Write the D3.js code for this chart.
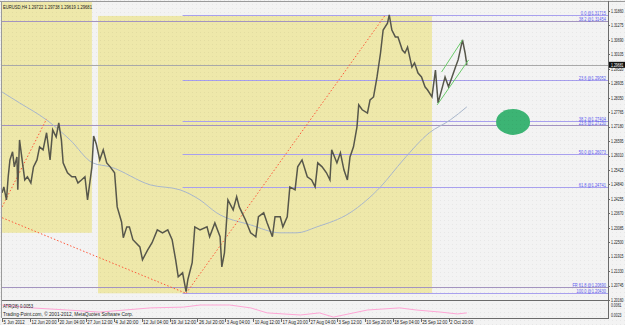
<!DOCTYPE html>
<html>
<head>
<meta charset="utf-8">
<script src="https://cdn.jsdelivr.net/npm/d3@7"></script>
<style>
  html, body { margin: 0; padding: 0; background: #f3f3f3; }
  svg { display: block; font-family: "Liberation Sans", Arial, sans-serif; }
</style>
</head>
<body>
<div id="chart"></div>
<script>
// EURUSD H4 — bar index on x (0 = 5 Jun 2012), price on y
const symbolHeader = 'EURUSD,H4 1.29722 1.29738 1.29619 1.29681';
const lastPrice = 1.29681;

const priceBars = [0, 2, 5, 7, 9, 12, 14, 17, 18, 20, 24, 26, 29, 33, 36, 40, 43, 47, 51, 55, 58, 62, 65, 68, 70, 72, 75,
  80, 84, 87, 91, 95, 98, 103, 105, 108, 112, 116, 120, 124, 129, 132, 137, 139, 143, 146, 150, 158, 161, 167, 172, 178,
  184, 190, 195, 199, 202, 207, 211, 213, 218, 221, 227, 235, 238, 244, 250, 252, 255, 259, 265, 269, 272, 279, 285, 291,
  294, 300, 304, 310, 313, 319, 322, 327, 330, 336, 339, 344, 350, 355, 359, 362, 367, 372, 376, 378, 384, 388, 392, 396,
  399, 403, 407, 409, 413, 419, 422, 426, 430, 434, 437, 442, 444, 447, 451, 454, 459, 462, 465, 470, 473, 477, 481, 485,
  488, 493, 497, 500, 505, 508, 512, 516, 520, 523, 528, 531, 533];
const priceVals = [1.2450, 1.2474, 1.2421, 1.2515, 1.2583, 1.2616, 1.2555, 1.2595, 1.2462, 1.2664, 1.2555, 1.2502, 1.2515,
  1.2490, 1.2555, 1.2583, 1.2636, 1.2624, 1.2693, 1.2583, 1.2705, 1.2676, 1.2733, 1.2664, 1.2571, 1.2555, 1.2531, 1.2515,
  1.2515, 1.2490, 1.2502, 1.2515, 1.2421, 1.2555, 1.2680, 1.2648, 1.2583, 1.2624, 1.2571, 1.2555, 1.2531, 1.2393, 1.2332,
  1.2268, 1.2312, 1.2312, 1.2260, 1.2231, 1.2179, 1.2219, 1.2248, 1.2300, 1.2288, 1.2300, 1.2260, 1.2179, 1.2110, 1.2126,
  1.2050, 1.2098, 1.2167, 1.2312, 1.2300, 1.2312, 1.2272, 1.2328, 1.2272, 1.2150, 1.2207, 1.2421, 1.2381, 1.2434, 1.2393,
  1.2341, 1.2288, 1.2272, 1.2353, 1.2369, 1.2328, 1.2272, 1.2353, 1.2353, 1.2312, 1.2353, 1.2474, 1.2462, 1.2555, 1.2583,
  1.2515, 1.2502, 1.2474, 1.2571, 1.2555, 1.2531, 1.2502, 1.2624, 1.2571, 1.2612, 1.2543, 1.2502, 1.2595, 1.2636, 1.2717,
  1.2806, 1.2786, 1.2773, 1.2826, 1.2838, 1.2919, 1.3016, 1.3109, 1.3137, 1.3170, 1.3109, 1.3081, 1.3081, 1.3028, 1.3016,
  1.3040, 1.2959, 1.2976, 1.2935, 1.2919, 1.2879, 1.2866, 1.2838, 1.2947, 1.2814, 1.2879, 1.2919, 1.2879, 1.2919, 1.2959,
  1.2988, 1.3069, 1.3016, 1.2968];

// slow moving average
const maBars = [0, 20, 51, 78, 104, 124, 170, 204, 227, 246, 285, 319, 338, 361, 399, 434, 460, 490, 514, 533];
const maVals = [1.2858, 1.2814, 1.2745, 1.2664, 1.2571, 1.2555, 1.2482, 1.2462, 1.2421, 1.2369, 1.2320, 1.2288, 1.2288,
  1.2312, 1.2369, 1.2474, 1.2583, 1.2693, 1.2745, 1.2798];

// ATR(28) sub-window
const atrBars = [0, 34, 75, 112, 170, 208, 227, 261, 285, 304, 342, 364, 380, 419, 456, 475, 503, 522, 533];
const atrVals = [0.0061, 0.0050, 0.0042, 0.0034, 0.0050, 0.0053, 0.0061, 0.0061, 0.0050, 0.0031, 0.0023, 0.0031, 0.0015,
  0.0042, 0.0050, 0.0042, 0.0034, 0.0027, 0.0031];
const atrTicks = [0.0061, 0.0023];

const priceTicks = [1.31860, 1.31275, 1.30690, 1.30105, 1.29520, 1.28935, 1.28350, 1.27765, 1.27180, 1.26595, 1.26010,
  1.25425, 1.24840, 1.24255, 1.23670, 1.23085, 1.22500, 1.21915, 1.21330, 1.20745, 1.20160];
const timeTickBars = [0, 32, 64, 96, 128, 160, 192, 224, 256, 288, 320, 352, 384, 416, 448, 480, 512];
const timeTickLabels = ['5 Jun 2012', '12 Jun 20:00', '20 Jun 04:00', '27 Jun 12:00', '4 Jul 20:00', '12 Jul 04:00',
  '19 Jul 12:00', '26 Jul 20:00', '3 Aug 04:00', '10 Aug 12:00', '17 Aug 20:00', '27 Aug 04:00', '3 Sep 12:00',
  '10 Sep 20:00', '18 Sep 04:00', '25 Sep 12:00', '2 Oct 20:00'];

// fibonacci from the Jul low to the Sep high (drawn from the low bar to the right)
const fibStartBar = 207;
const fibLabels = ['0.0', '23.6', '38.2', '50.0', '61.8', '100.0'];
const fibPrices = [1.31715, 1.29052, 1.27404, 1.26073, 1.24741, 1.20430];
// second retracement set, full width
const fib2Labels = ['38.2', '23.6', 'FR 61.8'];
const fib2Prices = [1.31454, 1.27230, 1.20690];

// shaded rectangles
const boxFrom = [0, 110];
const boxTo = [103, 493];
const boxTop = [1.3230, 1.3166];
const boxBottom = [1.2288, 1.2043];

// red dotted trend lines [bar1, price1, bar2, price2]
const trendA = [0, 1.2393, 51, 1.2749];
const trendB = [0, 1.2349, 211, 1.2043];
const trendC = [211, 1.2043, 440, 1.3172];
// green channel
const chanLow = [499, 1.2806, 535, 1.2988];
const chanHigh = [504, 1.2939, 528, 1.3069];
// green marker
const markBar = 586, markPrice = 1.2737;

const W = 625, H = 325;
const plotL = 2, plotR = 608, priceT = 2, priceB = 300, atrT = 302, atrB = 318;
const fs = 5;
const charW = 2.1;

const svg = d3.select('#chart').append('svg')
  .attr('width', W)
  .attr('height', H);

const x = d3.scaleLinear().domain([0, 695]).range([2.1, 608.1]);
const y = d3.scaleLinear().domain([1.20160, 1.31860]).range([300, 11]);
const ya = d3.scaleLinear().domain([0.0023, 0.0061]).range([315, 305]);

// small text squeezed like the downscaled terminal font
function label (sel, str, w) {
  sel.text(str)
    .style('font-size', fs + 'px')
    .attr('textLength', w || str.length * charW)
    .attr('lengthAdjust', 'spacingAndGlyphs');
  return sel;
}

const defs = svg.append('defs');
defs.append('clipPath').attr('id', 'clipP')
  .append('rect').attr('x', plotL).attr('y', priceT).attr('width', plotR - plotL).attr('height', priceB - priceT);
defs.append('clipPath').attr('id', 'clipA')
  .append('rect').attr('x', plotL).attr('y', atrT).attr('width', plotR - plotL).attr('height', atrB - atrT);
const dots = defs.append('pattern').attr('id', 'dots')
  .attr('width', 4).attr('height', 4).attr('patternUnits', 'userSpaceOnUse');
dots.append('rect').attr('width', 1).attr('height', 1).attr('fill', '#000').attr('opacity', 0.05);

svg.append('rect').attr('width', W).attr('height', H).attr('fill', '#f3f3f3');

const g = svg.append('g').attr('clip-path', 'url(#clipP)');

g.selectAll('rect.box')
  .data(boxFrom)
  .enter()
  .append('rect')
  .attr('class', 'box')
  .attr('x', d => x(d))
  .attr('y', (d, i) => y(boxTop[i]))
  .attr('width', (d, i) => x(boxTo[i]) - x(d))
  .attr('height', (d, i) => y(boxBottom[i]) - y(boxTop[i]))
  .attr('fill', '#eee8aa');

svg.append('rect').attr('width', W).attr('height', H).attr('fill', 'url(#dots)');

g.selectAll('line.fib2')
  .data(fib2Prices)
  .enter()
  .append('line')
  .attr('x1', plotL).attr('x2', plotR)
  .attr('y1', d => Math.round(y(d)) + 0.5).attr('y2', d => Math.round(y(d)) + 0.5)
  .style('stroke', '#a394c0');

g.selectAll('line.fib')
  .data(fibPrices)
  .enter()
  .append('line')
  .attr('x1', x(fibStartBar)).attr('x2', plotR)
  .attr('y1', d => Math.round(y(d)) + 0.5).attr('y2', d => Math.round(y(d)) + 0.5)
  .style('stroke', '#a8a0ee');

// bid line
g.append('line')
  .attr('x1', plotL).attr('x2', plotR)
  .attr('y1', Math.round(y(lastPrice)) + 0.5).attr('y2', Math.round(y(lastPrice)) + 0.5)
  .style('stroke', '#a9a9a9');

g.append('path')
  .datum(maBars)
  .attr('d', d3.line().x(d => x(d)).y((d, i) => y(maVals[i])).curve(d3.curveMonotoneX))
  .style('fill', 'none')
  .style('stroke', '#a9b7cc');

[trendA, trendB, trendC].forEach(t => {
  g.append('line')
    .attr('x1', x(t[0])).attr('y1', y(t[1]))
    .attr('x2', x(t[2])).attr('y2', y(t[3]))
    .style('stroke', '#ff5a3c')
    .style('stroke-dasharray', '1.5,2');
});

g.append('path')
  .datum(priceBars)
  .attr('d', d3.line().x(d => x(d)).y((d, i) => y(priceVals[i])))
  .style('fill', 'none')
  .style('stroke', '#57574b')
  .style('stroke-width', 1.5)
  .style('stroke-linejoin', 'miter');

[chanLow, chanHigh].forEach(t => {
  g.append('line')
    .attr('x1', x(t[0])).attr('y1', y(t[1]))
    .attr('x2', x(t[2])).attr('y2', y(t[3]))
    .style('stroke', '#6acb6a');
});

g.append('ellipse')
  .attr('cx', x(markBar)).attr('cy', y(markPrice))
  .attr('rx', 17).attr('ry', 13)
  .attr('fill', '#3cb474');

// fib labels
const fibText = fibPrices.map((p, i) => ({ p, s: `${fibLabels[i]} @${p.toFixed(5)}` }))
  .concat(fib2Prices.map((p, i) => ({ p, s: `${fib2Labels[i]} @${p.toFixed(5)}` })));
fibText.forEach(d => {
  label(g.append('text'), d.s)
    .attr('x', 606)
    .attr('y', Math.round(y(d.p)) - 0.3)
    .attr('text-anchor', 'end')
    .style('fill', '#5a5af0');
});

label(svg.append('text'), symbolHeader, 89)
  .attr('x', 3).attr('y', 9)
  .style('fill', '#222');

// ATR sub-window
const ga = svg.append('g').attr('clip-path', 'url(#clipA)');
ga.append('path')
  .datum(atrBars)
  .attr('d', d3.line().x(d => x(d)).y((d, i) => ya(atrVals[i])))
  .style('fill', 'none')
  .style('stroke', '#ffa6d6');

label(svg.append('text'), 'ATR(28) 0.0053', 30)
  .attr('x', 3).attr('y', 307.5)
  .style('fill', '#222');
label(svg.append('text'), 'Trading-Point.com, © 2001-2012, MetaQuotes Software Corp.', 130)
  .attr('x', 3).attr('y', 316)
  .style('fill', '#222');

// frame
const frame = svg.append('g').style('stroke', '#6b6b6b').style('fill', 'none');
frame.append('line').attr('x1', 0).attr('x2', W).attr('y1', 1.5).attr('y2', 1.5).style('stroke', '#9a9a9a');
frame.append('line').attr('x1', 1.5).attr('x2', 1.5).attr('y1', 1).attr('y2', atrB).style('stroke', '#9a9a9a');
frame.append('line').attr('x1', plotL).attr('x2', plotR).attr('y1', priceB + 0.5).attr('y2', priceB + 0.5);
frame.append('line').attr('x1', plotL).attr('x2', plotR).attr('y1', atrB + 0.5).attr('y2', atrB + 0.5);
frame.append('line').attr('x1', plotR + 0.5).attr('x2', plotR + 0.5).attr('y1', 1).attr('y2', atrB + 1);

// right price axis
priceTicks.forEach(p => {
  label(svg.append('text'), p.toFixed(5), 12.5)
    .attr('x', 623.5)
    .attr('y', y(p) + 1.8)
    .attr('text-anchor', 'end')
    .style('fill', '#222');
  svg.append('line')
    .attr('x1', plotR).attr('x2', plotR + 2)
    .attr('y1', Math.round(y(p)) + 0.5).attr('y2', Math.round(y(p)) + 0.5)
    .style('stroke', '#6b6b6b');
});

// last price tag
svg.append('rect')
  .attr('x', plotR + 1).attr('y', y(lastPrice) - 3)
  .attr('width', W - plotR).attr('height', 6)
  .attr('fill', '#111');
label(svg.append('text'), lastPrice.toFixed(5), 12.5)
  .attr('x', 623.5).attr('y', y(lastPrice) + 1.8)
  .attr('text-anchor', 'end')
  .style('fill', '#fff');

atrTicks.forEach(v => {
  label(svg.append('text'), v.toFixed(4), 10.5)
    .attr('x', 621.5)
    .attr('y', ya(v) + 1.8)
    .attr('text-anchor', 'end')
    .style('fill', '#222');
});

// time axis
timeTickBars.forEach((b, i) => {
  svg.append('line')
    .attr('x1', Math.round(x(b)) + 0.5).attr('x2', Math.round(x(b)) + 0.5)
    .attr('y1', atrB + 1).attr('y2', atrB + 4)
    .style('stroke', '#6b6b6b');
  label(svg.append('text'), timeTickLabels[i])
    .attr('x', x(b) + 1.5)
    .attr('y', 324)
    .style('fill', '#222');
});
</script>
</body>
</html>
